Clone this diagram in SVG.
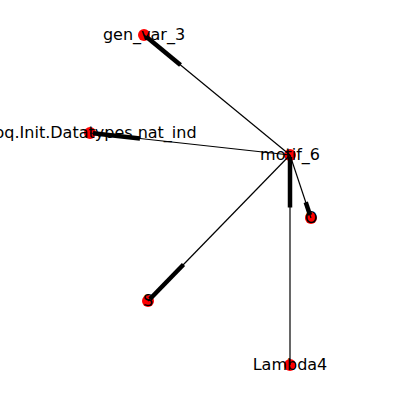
<svg xmlns="http://www.w3.org/2000/svg" width="400" height="400" viewBox="0 0 400 400">
<style>
.e{stroke:#000;stroke-width:1.2;fill:none}
.h{stroke:#000;stroke-width:4.5;fill:none}
.n{fill:#ff0000}
.t{font-family:"DejaVu Sans",sans-serif;font-size:16px;fill:#000;text-anchor:middle;dominant-baseline:central}
</style>
<rect width="400" height="400" fill="#fff"/>
<g id="nodes">
<g id="n-motif_6"><circle class="n" cx="290" cy="155" r="6"/></g>
<g id="n-gen_var_3"><circle class="n" cx="144" cy="35" r="6"/></g>
<g id="n-nat_ind"><circle class="n" cx="90" cy="133" r="6"/></g>
<g id="n-O"><circle class="n" cx="311" cy="218" r="6"/></g>
<g id="n-S"><circle class="n" cx="148" cy="301" r="6"/></g>
<g id="n-Lambda4"><circle class="n" cx="290" cy="365" r="6"/></g>
</g>
<g id="edges">
<line class="e" x1="290" y1="155" x2="144" y2="35"/>
<line class="h" x1="146" y1="36.5" x2="180.5" y2="65"/>
<line class="e" x1="290" y1="155" x2="90" y2="133"/>
<line class="h" x1="93" y1="133.3" x2="140" y2="138.5"/>
<line class="e" x1="290" y1="155" x2="311" y2="218"/>
<line class="h" x1="310" y1="215" x2="305.75" y2="202.25"/>
<line class="e" x1="290" y1="155" x2="148" y2="301"/>
<line class="h" x1="150" y1="299" x2="183.5" y2="264.5"/>
<line class="e" x1="290" y1="155" x2="290" y2="365"/>
<line class="h" x1="290" y1="157" x2="290" y2="207.5"/>
</g>
<g id="labels">
<text class="t" x="290" y="154">motif_6</text>
<text class="t" x="144" y="34">gen_var_3</text>
<text class="t" x="90" y="132">Coq.Init.Datatypes.nat_ind</text>
<text class="t" x="311" y="217">O</text>
<text class="t" x="148" y="300">S</text>
<text class="t" x="290" y="364">Lambda4</text>
</g>
</svg>
